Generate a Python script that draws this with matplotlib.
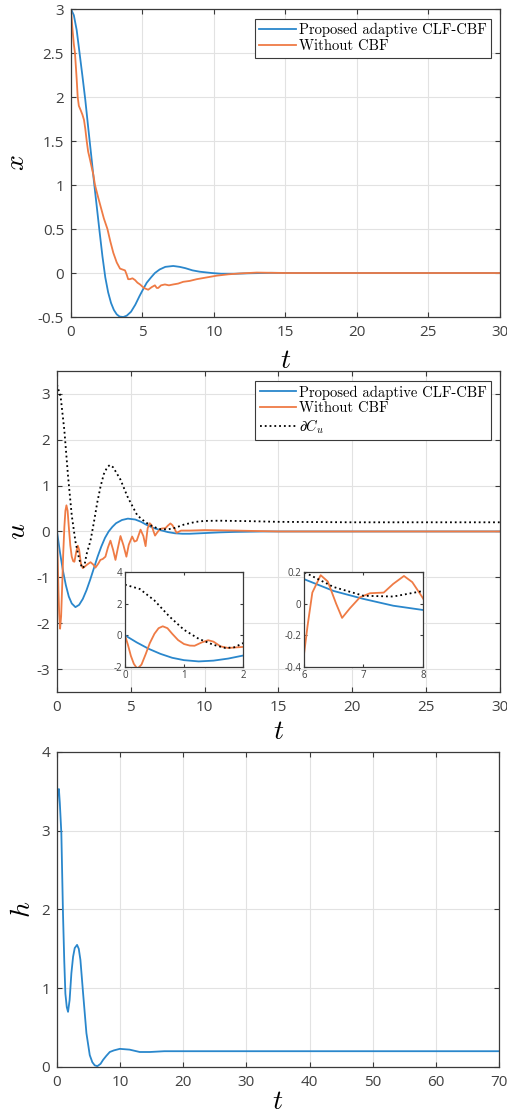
import matplotlib
matplotlib.use("Agg")
import matplotlib.pyplot as plt

plt.rcParams['font.family'] = ['Open Sans', 'DejaVu Sans']
plt.rcParams['mathtext.fontset'] = 'cm'
plt.rcParams['axes.unicode_minus'] = False

# ---- panel 1: state x ----
t_x_prop = [0, 0.2, 0.4, 0.6, 0.8, 1.0, 1.2, 1.4, 1.6, 1.8, 2.0, 2.2, 2.4, 2.6, 2.8, 3.0, 3.2, 3.4,
            3.66, 3.9, 4.2, 4.5, 4.8, 5.06, 5.3, 5.6, 5.87, 6.2, 6.6, 7.15, 7.6, 8.0, 8.5, 9.0, 9.84,
            10.5, 11.5, 12.5, 14, 16, 30]
x_prop = [3.0, 2.93, 2.76, 2.5, 2.24, 1.97, 1.66, 1.36, 1.05, 0.76, 0.47, 0.19, -0.05, -0.22, -0.34,
          -0.42, -0.47, -0.495, -0.5, -0.485, -0.44, -0.36, -0.26, -0.18, -0.11, -0.05, 0.0, 0.04,
          0.07, 0.08, 0.07, 0.055, 0.03, 0.015, 0.0, -0.008, -0.008, -0.003, 0.002, 0.0, 0.0]

t_x_nocbf = [0, 0.1, 0.2, 0.28, 0.4, 0.47, 0.55, 0.68, 0.8, 0.91, 1.0, 1.1, 1.2, 1.33, 1.45, 1.56,
             1.68, 1.9, 2.1, 2.3, 2.55, 2.75, 2.96, 3.2, 3.43, 3.6, 3.78, 3.9, 4.0, 4.13, 4.3, 4.48,
             4.65, 4.83, 5.1, 5.4, 5.65, 5.87, 6.0, 6.1, 6.3, 6.57, 6.85, 7.15, 7.5, 7.85, 8.3, 8.8,
             9.5, 10.2, 11, 11.8, 13, 15, 30]
x_nocbf = [3.0, 2.78, 2.6, 2.5, 2.2, 2.0, 1.9, 1.85, 1.8, 1.74, 1.64, 1.5, 1.38, 1.29, 1.2, 1.12,
           1.0, 0.86, 0.74, 0.62, 0.5, 0.36, 0.23, 0.12, 0.05, 0.04, 0.03, -0.02, -0.07, -0.07, -0.06,
           -0.08, -0.11, -0.13, -0.17, -0.19, -0.16, -0.14, -0.17, -0.17, -0.14, -0.13, -0.14, -0.13,
           -0.12, -0.1, -0.09, -0.07, -0.05, -0.03, -0.015, -0.005, 0.005, 0.0, 0.0]

# ---- panel 2: input u ----
t_u_prop = [0, 0.2, 0.4, 0.6, 0.8, 1.0, 1.25, 1.5, 1.75, 2.0, 2.25, 2.5, 2.75, 3.0, 3.25, 3.5, 3.75,
            4.0, 4.4, 4.8, 5.3, 5.7, 6.0, 6.5, 7.0, 7.5, 8.0, 8.5, 9.0, 10, 11, 12, 14, 30]
u_prop = [0.0, -0.45, -0.85, -1.17, -1.42, -1.57, -1.65, -1.6, -1.47, -1.28, -1.05, -0.8, -0.55,
          -0.33, -0.14, 0.0, 0.1, 0.18, 0.25, 0.28, 0.26, 0.21, 0.155, 0.08, 0.03, -0.013, -0.04,
          -0.05, -0.05, -0.035, -0.02, -0.01, 0.0, 0.0]

t_u_nocbf = [0, 0.05, 0.1, 0.15, 0.21, 0.28, 0.35, 0.42, 0.5, 0.57, 0.64, 0.72, 0.8, 0.9, 1.0, 1.1,
             1.18, 1.3, 1.41, 1.5, 1.62, 1.75, 1.9, 2.05, 2.27, 2.45, 2.6, 2.8, 2.94, 3.1, 3.28, 3.45,
             3.62, 3.8, 3.96, 4.13, 4.3, 4.5, 4.7, 4.86, 5.09, 5.25, 5.4, 5.66, 5.85, 6.0, 6.06, 6.14,
             6.28, 6.4, 6.54, 6.64, 6.77, 6.94, 7.11, 7.34, 7.5, 7.68, 7.82, 7.99, 8.1, 8.4, 9.0, 10,
             12, 15, 30]
u_nocbf = [0.0, -0.6, -1.3, -1.8, -2.12, -1.85, -1.2, -0.5, 0.1, 0.45, 0.57, 0.45, 0.1, -0.3, -0.55,
           -0.65, -0.66, -0.45, -0.31, -0.4, -0.7, -0.8, -0.76, -0.72, -0.67, -0.72, -0.79, -0.7,
           -0.62, -0.6, -0.55, -0.35, -0.2, -0.4, -0.62, -0.35, -0.1, -0.3, -0.55, -0.29, -0.11,
           -0.22, -0.2, 0.04, -0.1, -0.32, -0.14, 0.07, 0.18, 0.14, 0.0, -0.09, -0.03, 0.04, 0.066,
           0.07, 0.125, 0.175, 0.136, 0.04, -0.03, 0.02, 0.02, 0.03, 0.02, 0.0, 0.0]

t_cu = [0, 0.25, 0.5, 0.75, 1.0, 1.25, 1.5, 1.7, 1.85, 2.0, 2.27, 2.5, 2.72, 2.95, 3.17, 3.4, 3.58,
        3.8, 4.08, 4.3, 4.76, 4.9, 5.44, 6.0, 6.5, 7.0, 7.5, 8.0, 8.6, 9.4, 10, 11, 13, 15, 20, 30]
cu = [3.2, 2.93, 2.2, 1.2, 0.35, -0.22, -0.6, -0.8, -0.76, -0.5, -0.2, 0.2, 0.62, 0.98, 1.25, 1.4,
      1.45, 1.4, 1.25, 1.13, 0.77, 0.68, 0.35, 0.2, 0.105, 0.05, 0.045, 0.08, 0.15, 0.21, 0.23,
      0.235, 0.225, 0.21, 0.2, 0.2]

# ---- panel 3: barrier h ----
t_h = [0, 0.1, 0.2, 0.3, 0.45, 0.69, 0.95, 1.15, 1.33, 1.55, 1.75, 2.0, 2.28, 2.55, 2.81, 3.18, 3.45,
       3.71, 4.13, 4.66, 5.19, 5.6, 5.98, 6.4, 6.9, 7.3, 7.8, 8.36, 9.0, 9.95, 11.5, 13.1, 14.7, 17,
       70]
h = [3.2, 3.52, 3.47, 3.53, 3.35, 2.97, 1.95, 1.35, 0.93, 0.76, 0.7, 0.85, 1.19, 1.4, 1.51, 1.55,
     1.5, 1.36, 0.94, 0.43, 0.15, 0.06, 0.02, 0.01, 0.04, 0.09, 0.14, 0.19, 0.21, 0.23, 0.22, 0.19,
     0.19, 0.2, 0.2]

blue = '#2a87cc'
orange = '#ef7b45'
ink = '#404040'
frame = '#3a3a3a'
gridc = '#e2e2e2'


def style(ax, fs=11, grid=True):
    ax.tick_params(direction='in', top=True, right=True, length=3.5, width=0.8,
                   colors=frame, labelcolor=ink, labelsize=fs)
    ax.tick_params(axis='x', pad=6)
    ax.tick_params(axis='y', pad=5)
    for s in ax.spines.values():
        s.set_color(frame)
        s.set_linewidth(0.9)
    if grid:
        ax.grid(True, color=gridc, linewidth=0.8)
        ax.set_axisbelow(True)


def add_legend(ax, anchor):
    leg = ax.legend(loc='upper right', bbox_to_anchor=anchor, borderaxespad=0,
                    prop={'family': 'cmr10', 'size': 10.5}, fancybox=False, framealpha=1,
                    edgecolor=frame, handlelength=2.5, labelspacing=0.15, borderpad=0.3,
                    handletextpad=0.2)
    leg.get_frame().set_linewidth(0.8)


fig = plt.figure(figsize=(5.07, 11.17), dpi=100)

# panel 1
ax1 = fig.add_axes([0.140, 0.7162, 0.846, 0.2757])
ax1.plot(t_x_prop, x_prop, color=blue, lw=1.3, label='Proposed adaptive CLF-CBF')
ax1.plot(t_x_nocbf, x_nocbf, color=orange, lw=1.3, label='Without CBF')
ax1.set_xlim(0, 30)
ax1.set_ylim(-0.5, 3)
ax1.set_xticks(range(0, 31, 5))
ax1.set_yticks([-0.5, 0, 0.5, 1, 1.5, 2, 2.5, 3])
ax1.set_yticklabels(['-0.5', '0', '0.5', '1', '1.5', '2', '2.5', '3'])
style(ax1)
ax1.set_xlabel(r'$t$', fontsize=20)
ax1.set_ylabel(r'$x$', fontsize=20)
ax1.xaxis.set_label_coords(0.5, -0.097)
ax1.yaxis.set_label_coords(-0.094, 0.5)
add_legend(ax1, (0.979, 0.968))

# panel 2
ax2 = fig.add_axes([0.1124, 0.3805, 0.8738, 0.2874])
ax2.plot(t_u_prop, u_prop, color=blue, lw=1.3, label='Proposed adaptive CLF-CBF')
ax2.plot(t_u_nocbf, u_nocbf, color=orange, lw=1.3, label='Without CBF')
ax2.plot(t_cu, cu, color='black', lw=1.3, linestyle=':', label=r'$\partial C_u$')
ax2.set_xlim(0, 30)
ax2.set_ylim(-3.5, 3.5)
ax2.set_xticks(range(0, 31, 5))
ax2.set_yticks(range(-3, 4))
ax2.set_yticklabels(['-3', '-2', '-1', '0', '1', '2', '3'])
style(ax2)
ax2.set_xlabel(r'$t$', fontsize=20)
ax2.set_ylabel(r'$u$', fontsize=20)
ax2.xaxis.set_label_coords(0.5, -0.08)
ax2.yaxis.set_label_coords(-0.056, 0.5)
add_legend(ax2, (0.98, 0.969))

# insets
in1 = fig.add_axes([0.2465, 0.4029, 0.2327, 0.0850])
in1.plot(t_u_prop, u_prop, color=blue, lw=1.3)
in1.plot(t_u_nocbf, u_nocbf, color=orange, lw=1.3)
in1.plot(t_cu, cu, color='black', lw=1.3, linestyle=':')
in1.set_xlim(0, 2)
in1.set_ylim(-2, 4)
in1.set_xticks([0, 1, 2])
in1.set_yticks([-2, 0, 2, 4])
in1.set_yticklabels(['-2', '0', '2', '4'])
style(in1, fs=7, grid=False)
in1.tick_params(length=2.5, pad=2)

in2 = fig.add_axes([0.5996, 0.4029, 0.2347, 0.0850])
in2.plot(t_u_prop, u_prop, color=blue, lw=1.3)
in2.plot(t_u_nocbf, u_nocbf, color=orange, lw=1.3)
in2.plot(t_cu, cu, color='black', lw=1.3, linestyle=':')
in2.set_xlim(6, 8)
in2.set_ylim(-0.4, 0.2)
in2.set_xticks([6, 7, 8])
in2.set_yticks([-0.4, -0.2, 0, 0.2])
in2.set_yticklabels(['-0.4', '-0.2', '0', '0.2'])
style(in2, fs=7, grid=False)
in2.tick_params(length=2.5, pad=2)

# panel 3
ax3 = fig.add_axes([0.1124, 0.0448, 0.8718, 0.282])
ax3.plot(t_h, h, color=blue, lw=1.3)
ax3.set_xlim(0, 70)
ax3.set_ylim(0, 4)
ax3.set_xticks(range(0, 71, 10))
ax3.set_yticks(range(0, 5))
style(ax3)
ax3.set_xlabel(r'$t$', fontsize=20)
ax3.set_ylabel(r'$h$', fontsize=20)
ax3.xaxis.set_label_coords(0.5, -0.066)
ax3.yaxis.set_label_coords(-0.046, 0.5)

fig.savefig('out.png', dpi=100)
